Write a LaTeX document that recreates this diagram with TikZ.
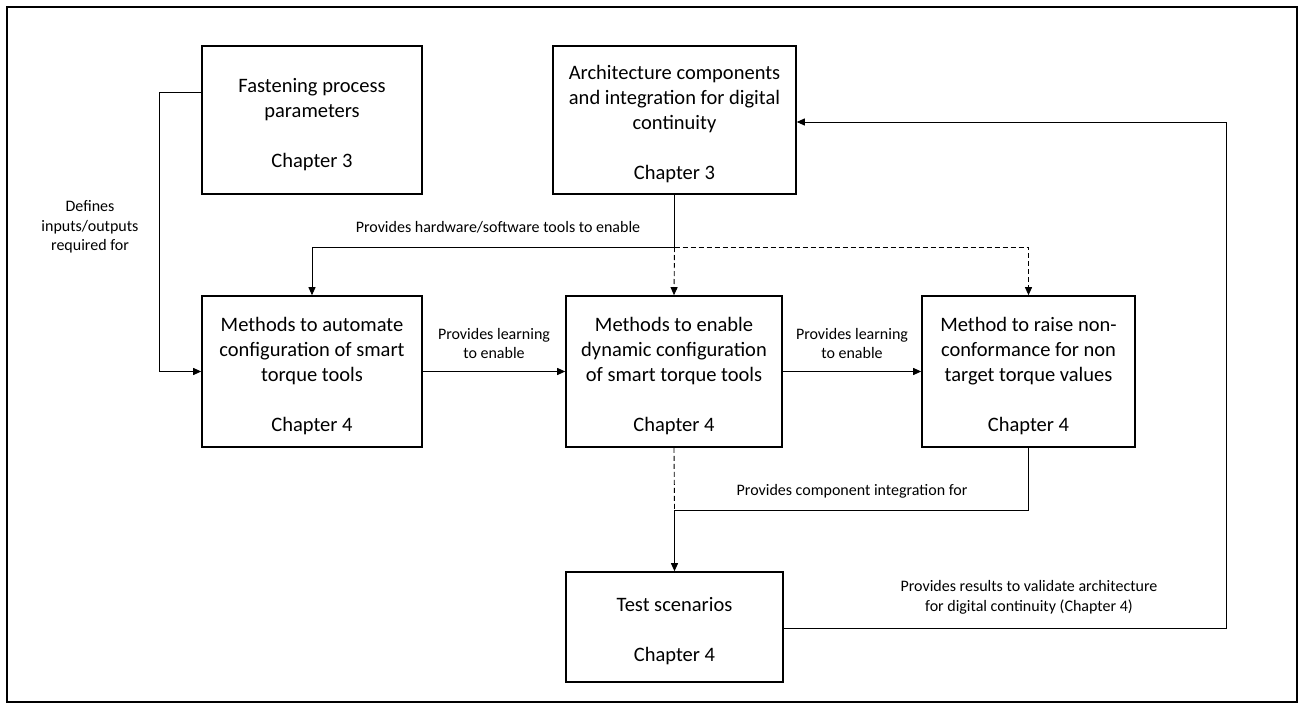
\documentclass[tikz,border=0pt]{standalone}
\usepackage{fontspec}
\setmainfont{Carlito}
\usetikzlibrary{arrows.meta}
\newcommand\bxstrut{\rule{0pt}{23pt}}
\begin{document}
\begin{tikzpicture}[x=1pt,y=-1pt,
  box/.style={draw=black,line width=1.6pt,align=center,inner sep=0pt,
    font=\fontsize{20.5}{25}\selectfont,minimum height=151pt},
  lbl/.style={align=center,inner sep=0pt,font=\fontsize{16}{19.5}\selectfont},
  conn/.style={draw=black,line width=0.9pt},
  arr/.style={conn,-{Triangle[length=8pt,width=7pt]}},
  dsh/.style={dash pattern=on 5pt off 3pt}]
\useasboundingbox (0,0) rectangle (1304,709);
\draw[line width=2.5pt] (7,7) rectangle (1297,702);

\node[box,minimum width=220pt,minimum height=148pt] (b1) at (312,120)
  {\bxstrut Fastening process\\parameters\\[25pt]Chapter 3};
\node[box,minimum width=243pt,minimum height=148pt] (b2) at (674.5,120)
  {\bxstrut Architecture components\\and integration for digital\\continuity\\[25pt]Chapter 3};
\node[box,minimum width=220pt] (b3) at (312,371.5)
  {\bxstrut Methods to automate\\configuration of smart\\torque tools\\[25pt]Chapter 4};
\node[box,minimum width=216pt] (b4) at (674,371.5)
  {\bxstrut Methods to enable\\dynamic configuration\\of smart torque tools\\[25pt]Chapter 4};
\node[box,minimum width=213pt] (b5) at (1028.5,371.5)
  {\bxstrut Method to raise non-\\conformance for non\\target torque values\\[25pt]Chapter 4};
\node[box,minimum width=217pt,minimum height=110pt] (b6) at (674.5,627)
  {\bxstrut Test scenarios\\[25pt]Chapter 4};

% labels
\node[lbl] (l1) at (90,227) {Defines\\inputs/outputs\\required for};
\node[lbl] (l2) at (498,227) {Provides hardware/software tools to enable};
\node[lbl] (l3) at (494,343.5) {Provides learning\\to enable};
\node[lbl] (l4) at (852,343.5) {Provides learning\\to enable};
\node[lbl] (l5) at (852,491) {Provides component integration for};
\node[lbl] (l6) at (1029,597.5) {Provides results to validate architecture\\for digital continuity (Chapter 4)};

% coordinates
\coordinate (b1out) at ([yshift=28pt]b1.west);
\coordinate (j1) at (674.5,247);
\coordinate (j2) at (674.5,510);
\coordinate (r1) at (1226,628);
\coordinate (r2) at (1226,122);
\coordinate (b6out) at (b6.east |- r1);
\coordinate (b2in) at (b2.east |- r2);

% connectors
\draw[arr] (b1out) -- ++(-42,0) |- (b3.west);
\draw[conn] (b2.south) -- (j1);
\draw[arr] (j1) -| (b3.north);
\draw[arr,dsh] (j1) -- (b4.north);
\draw[arr,dsh] (j1) -| (b5.north);
\draw[arr] (b3.east) -- (b4.west);
\draw[arr] (b4.east) -- (b5.west);
\draw[conn,dsh] (b4.south) -- (j2);
\draw[arr] (j2) -- (b6.north);
\draw[conn] (b5.south) |- (j2);
\draw[arr] (b6out) -- (r1) -- (r2) -- (b2in);
\end{tikzpicture}
\end{document}
